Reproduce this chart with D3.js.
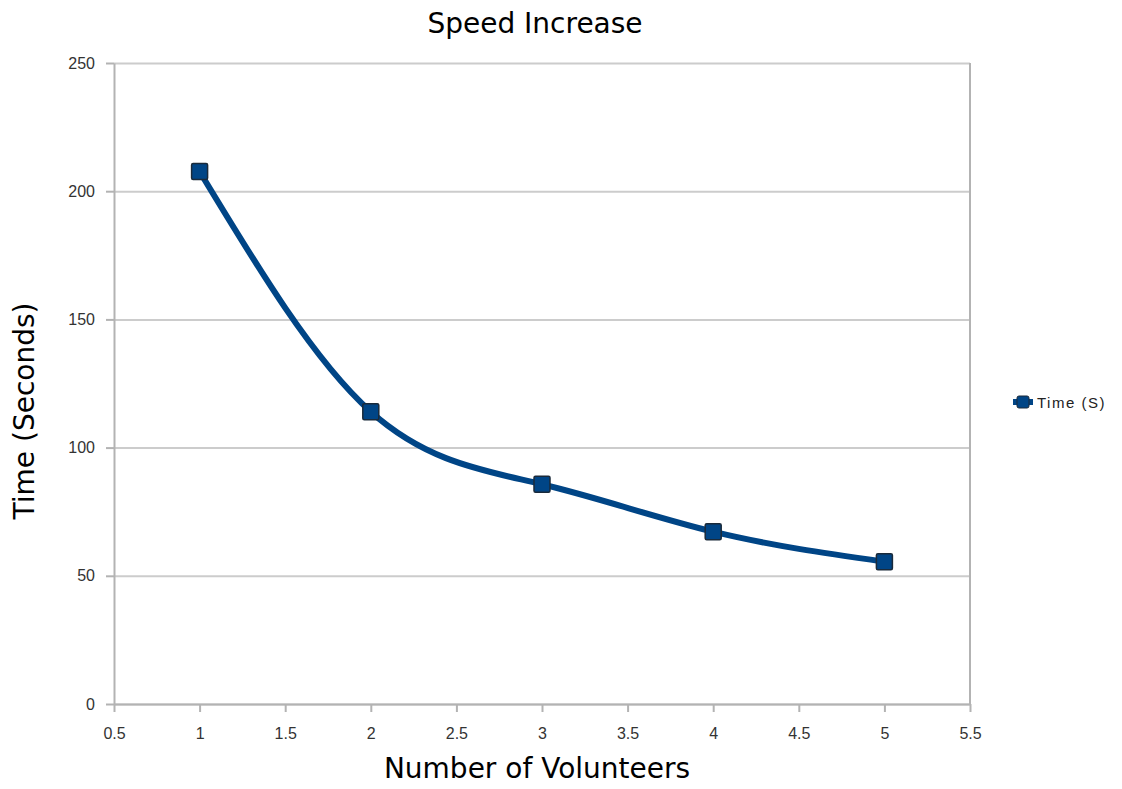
<!DOCTYPE html>
<html>
<head>
<meta charset="utf-8">
<script src="https://cdn.jsdelivr.net/npm/d3@7"></script>
<style>
  body { margin: 0; background: #fff; }
  .title, .label { font-family: "DejaVu Sans", sans-serif; font-size: 28px; fill: #000; text-anchor: middle; }
  .axis text { font-family: "Liberation Sans", Arial, sans-serif; font-size: 16px; fill: #333; }
  .axis path, .axis line { stroke: #b3b3b3; stroke-width: 2; }
  .grid line { stroke: #cccccc; stroke-width: 2; }
  .grid path { display: none; }
  .legend text { font-family: "Liberation Sans", Arial, sans-serif; font-size: 15px; fill: #222; letter-spacing: 1.5px; }
</style>
</head>
<body>
<div id="linechart"></div>
<script>
// data
let volunteers = [1, 2, 3, 4, 5];
let timeSeconds = [207.7, 114, 85.7, 67.2, 55.5];
let seriesName = "Time (S)";
let xTicks = [0.5, 1, 1.5, 2, 2.5, 3, 3.5, 4, 4.5, 5, 5.5];
let yTicks = [0, 50, 100, 150, 200, 250];

let canvasWidth = 1122;
let canvasHeight = 789;
let plotLeft = 114, plotRight = 970, plotTop = 63, plotBottom = 704;

let svg = d3.select("div#linechart")
    .append("svg")
    .attr("width", canvasWidth)
    .attr("height", canvasHeight);

let xScale = d3.scaleLinear().domain([0.5, 5.5]).range([plotLeft, plotRight]);
let yScale = d3.scaleLinear().domain([0, 250]).range([plotBottom, plotTop]);

// title
svg.append("text")
    .attr("class", "title")
    .attr("x", 535)
    .attr("y", 33)
    .text("Speed Increase");

// horizontal grid
svg.append("g")
    .attr("class", "grid")
    .attr("transform", "translate(" + plotLeft + ",0)")
    .call(d3.axisRight(yScale)
        .tickValues(yTicks)
        .tickSize(plotRight - plotLeft)
        .tickFormat(""));

// x axis
let xAxis = svg.append("g")
    .attr("class", "axis")
    .attr("transform", "translate(0," + plotBottom + ")")
    .call(d3.axisBottom(xScale)
        .tickValues(xTicks)
        .tickSize(8)
        .tickSizeOuter(0)
        .tickFormat(d3.format("")));
xAxis.selectAll("text").attr("y", 24);

// y axis
let yAxis = svg.append("g")
    .attr("class", "axis")
    .attr("transform", "translate(" + plotLeft + ",0)")
    .call(d3.axisLeft(yScale)
        .tickValues(yTicks)
        .tickSize(8)
        .tickSizeOuter(0));
yAxis.selectAll("text").attr("x", -19);

// right border
svg.append("line")
    .attr("x1", plotRight).attr("x2", plotRight)
    .attr("y1", plotTop).attr("y2", plotBottom)
    .attr("stroke", "#b3b3b3")
    .attr("stroke-width", 2);

// axis labels
svg.append("text")
    .attr("class", "label")
    .attr("x", 537)
    .attr("y", 778)
    .text("Number of Volunteers");

svg.append("text")
    .attr("class", "label")
    .attr("transform", "translate(34," + 411 + ") rotate(270)")
    .text("Time (Seconds)");

// line
let points = volunteers.map((v, i) => [v, timeSeconds[i]]);
svg.append("path")
    .datum(points)
    .attr("fill", "none")
    .attr("stroke", "#004586")
    .attr("stroke-width", 6)
    .attr("d", d3.line()
        .curve(d3.curveNatural)
        .x(d => xScale(d[0]))
        .y(d => yScale(d[1])));

// markers
svg.selectAll("rect.marker")
    .data(points)
    .enter()
    .append("rect")
    .attr("class", "marker")
    .attr("x", d => xScale(d[0]) - 8)
    .attr("y", d => yScale(d[1]) - 8)
    .attr("width", 16)
    .attr("height", 16)
    .attr("rx", 1.5)
    .attr("fill", "#004586")
    .attr("stroke", "#1a2a3a")
    .attr("stroke-width", 1.5);

// legend
let legend = svg.append("g").attr("class", "legend")
    .attr("transform", "translate(1013,402)");
legend.append("line")
    .attr("x1", 0).attr("x2", 20)
    .attr("stroke", "#004586").attr("stroke-width", 6);
legend.append("rect")
    .attr("x", 4).attr("y", -6).attr("width", 12).attr("height", 12)
    .attr("rx", 2)
    .attr("fill", "#004586").attr("stroke", "#1a2a3a").attr("stroke-width", 1);
legend.append("text")
    .attr("x", 24).attr("y", 5.5)
    .text(seriesName);
</script>
</body>
</html>
